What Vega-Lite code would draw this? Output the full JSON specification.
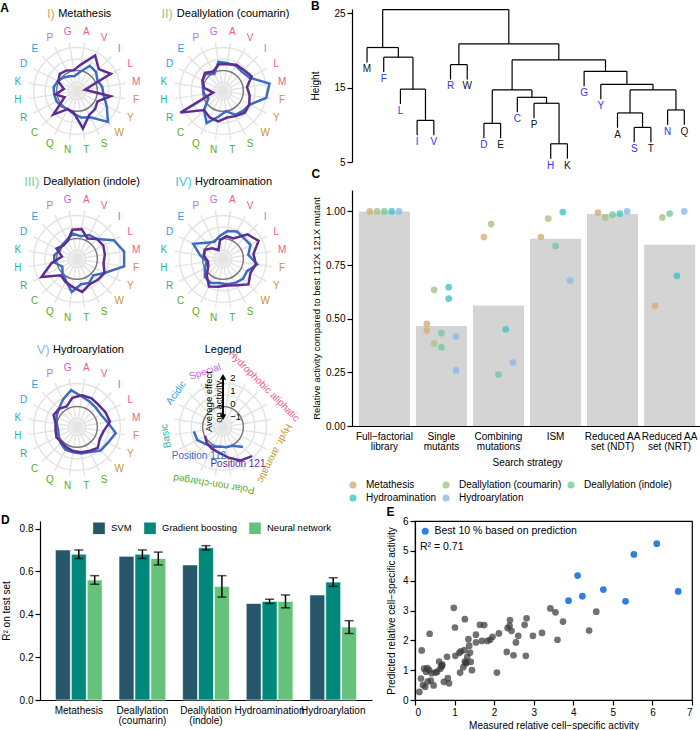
{
"$schema":"https://vega.github.io/schema/vega-lite/v6.json",
"padding":0,
"config":{"font":"Liberation Sans","view":{"stroke":null},
"axis":{"labelFontSize":10,"titleFontSize":10,"titleFontWeight":"normal","domainColor":"#000","tickColor":"#000","labelColor":"#000","titleColor":"#000","grid":false,"domainWidth":1.2,"tickWidth":1.2},
"legend":{"labelFontSize":10,"titleFontWeight":"normal","labelColor":"#000"}},
"datasets":{
"aa":[{"aa":"A","i":0,"g":"Hydrophobic aliphatic"},{"aa":"V","i":1,"g":"Hydrophobic aliphatic"},{"aa":"I","i":2,"g":"Hydrophobic aliphatic"},{"aa":"L","i":3,"g":"Hydrophobic aliphatic"},{"aa":"M","i":4,"g":"Hydrophobic aliphatic"},{"aa":"F","i":5,"g":"Hydr. aromatic"},{"aa":"Y","i":6,"g":"Hydr. aromatic"},{"aa":"W","i":7,"g":"Hydr. aromatic"},{"aa":"S","i":8,"g":"Polar non-charged"},{"aa":"T","i":9,"g":"Polar non-charged"},{"aa":"N","i":10,"g":"Polar non-charged"},{"aa":"Q","i":11,"g":"Polar non-charged"},{"aa":"C","i":12,"g":"Polar non-charged"},{"aa":"R","i":13,"g":"Basic"},{"aa":"H","i":14,"g":"Basic"},{"aa":"K","i":15,"g":"Basic"},{"aa":"D","i":16,"g":"Acidic"},{"aa":"E","i":17,"g":"Acidic"},{"aa":"P","i":18,"g":"Special"},{"aa":"G","i":19,"g":"Special"}],
"rings":[{"r":0.77,"k":"grid"},{"r":2.77,"k":"grid"},{"r":3.77,"k":"grid"},{"r":1.77,"k":"zero"}],
"groups":[{"g":"Special","m":18.5},{"g":"Hydrophobic aliphatic","m":2},{"g":"Hydr. aromatic","m":6},{"g":"Polar non-charged","m":10},{"g":"Basic","m":14},{"g":"Acidic","m":16.5}],
"ticks":[{"v":2},{"v":1},{"v":0},{"v":-1}],
"radar":[
{"rx":"I","p":"112","aa":"A","v":-0.3},{"rx":"I","p":"112","aa":"V","v":0.4},{"rx":"I","p":"112","aa":"I","v":0.3},{"rx":"I","p":"112","aa":"L","v":0.0},{"rx":"I","p":"112","aa":"M","v":0.2},{"rx":"I","p":"112","aa":"F","v":0.3},{"rx":"I","p":"112","aa":"Y","v":0.8},{"rx":"I","p":"112","aa":"W","v":1.6},{"rx":"I","p":"112","aa":"S","v":0.5},{"rx":"I","p":"112","aa":"T","v":0.3},{"rx":"I","p":"112","aa":"N","v":0.0},{"rx":"I","p":"112","aa":"Q","v":-0.2},{"rx":"I","p":"112","aa":"C","v":-0.1},{"rx":"I","p":"112","aa":"R","v":0.0},{"rx":"I","p":"112","aa":"H","v":0.0},{"rx":"I","p":"112","aa":"K","v":0.05},{"rx":"I","p":"112","aa":"D","v":-0.1},{"rx":"I","p":"112","aa":"E","v":-0.3},{"rx":"I","p":"112","aa":"P","v":-0.5},{"rx":"I","p":"112","aa":"G","v":-0.6},
{"rx":"I","p":"121","aa":"A","v":0.3},{"rx":"I","p":"121","aa":"V","v":1.3},{"rx":"I","p":"121","aa":"I","v":0.6},{"rx":"I","p":"121","aa":"L","v":1.15},{"rx":"I","p":"121","aa":"M","v":-1.15},{"rx":"I","p":"121","aa":"F","v":0.85},{"rx":"I","p":"121","aa":"Y","v":0.0},{"rx":"I","p":"121","aa":"W","v":0.2},{"rx":"I","p":"121","aa":"S","v":0.3},{"rx":"I","p":"121","aa":"T","v":1.15},{"rx":"I","p":"121","aa":"N","v":-0.1},{"rx":"I","p":"121","aa":"Q","v":-0.2},{"rx":"I","p":"121","aa":"C","v":0.8},{"rx":"I","p":"121","aa":"R","v":-0.7},{"rx":"I","p":"121","aa":"H","v":-0.1},{"rx":"I","p":"121","aa":"K","v":-0.75},{"rx":"I","p":"121","aa":"D","v":-0.15},{"rx":"I","p":"121","aa":"E","v":0.1},{"rx":"I","p":"121","aa":"P","v":0.0},{"rx":"I","p":"121","aa":"G","v":-0.15},
{"rx":"II","p":"112","aa":"A","v":0.4},{"rx":"II","p":"112","aa":"V","v":0.4},{"rx":"II","p":"112","aa":"I","v":0.3},{"rx":"II","p":"112","aa":"L","v":0.5},{"rx":"II","p":"112","aa":"M","v":1.85},{"rx":"II","p":"112","aa":"F","v":1.6},{"rx":"II","p":"112","aa":"Y","v":0.55},{"rx":"II","p":"112","aa":"W","v":0.4},{"rx":"II","p":"112","aa":"S","v":0.3},{"rx":"II","p":"112","aa":"T","v":-0.2},{"rx":"II","p":"112","aa":"N","v":0.2},{"rx":"II","p":"112","aa":"Q","v":1.0},{"rx":"II","p":"112","aa":"C","v":0.3},{"rx":"II","p":"112","aa":"R","v":-0.5},{"rx":"II","p":"112","aa":"H","v":-0.3},{"rx":"II","p":"112","aa":"K","v":-0.2},{"rx":"II","p":"112","aa":"D","v":0.0},{"rx":"II","p":"112","aa":"E","v":0.1},{"rx":"II","p":"112","aa":"P","v":-0.3},{"rx":"II","p":"112","aa":"G","v":0.5},
{"rx":"II","p":"121","aa":"A","v":0.3},{"rx":"II","p":"121","aa":"V","v":0.5},{"rx":"II","p":"121","aa":"I","v":0.5},{"rx":"II","p":"121","aa":"L","v":0.7},{"rx":"II","p":"121","aa":"M","v":0.1},{"rx":"II","p":"121","aa":"F","v":0.3},{"rx":"II","p":"121","aa":"Y","v":0.5},{"rx":"II","p":"121","aa":"W","v":0.6},{"rx":"II","p":"121","aa":"S","v":0.4},{"rx":"II","p":"121","aa":"T","v":0.3},{"rx":"II","p":"121","aa":"N","v":0.6},{"rx":"II","p":"121","aa":"Q","v":0.5},{"rx":"II","p":"121","aa":"C","v":0.3},{"rx":"II","p":"121","aa":"R","v":1.9},{"rx":"II","p":"121","aa":"H","v":-1.0},{"rx":"II","p":"121","aa":"K","v":-0.3},{"rx":"II","p":"121","aa":"D","v":0.0},{"rx":"II","p":"121","aa":"E","v":0.2},{"rx":"II","p":"121","aa":"P","v":-0.1},{"rx":"II","p":"121","aa":"G","v":0.3},
{"rx":"III","p":"112","aa":"A","v":0.0},{"rx":"III","p":"112","aa":"V","v":0.3},{"rx":"III","p":"112","aa":"I","v":0.4},{"rx":"III","p":"112","aa":"L","v":1.4},{"rx":"III","p":"112","aa":"M","v":1.9},{"rx":"III","p":"112","aa":"F","v":1.9},{"rx":"III","p":"112","aa":"Y","v":0.6},{"rx":"III","p":"112","aa":"W","v":0.0},{"rx":"III","p":"112","aa":"S","v":0.3},{"rx":"III","p":"112","aa":"T","v":0.2},{"rx":"III","p":"112","aa":"N","v":0.8},{"rx":"III","p":"112","aa":"Q","v":0.1},{"rx":"III","p":"112","aa":"C","v":-0.2},{"rx":"III","p":"112","aa":"R","v":-0.5},{"rx":"III","p":"112","aa":"H","v":0.0},{"rx":"III","p":"112","aa":"K","v":0.0},{"rx":"III","p":"112","aa":"D","v":-0.3},{"rx":"III","p":"112","aa":"E","v":-0.2},{"rx":"III","p":"112","aa":"P","v":-0.1},{"rx":"III","p":"112","aa":"G","v":0.2},
{"rx":"III","p":"121","aa":"A","v":0.55},{"rx":"III","p":"121","aa":"V","v":0.0},{"rx":"III","p":"121","aa":"I","v":0.4},{"rx":"III","p":"121","aa":"L","v":0.5},{"rx":"III","p":"121","aa":"M","v":0.4},{"rx":"III","p":"121","aa":"F","v":0.3},{"rx":"III","p":"121","aa":"Y","v":0.6},{"rx":"III","p":"121","aa":"W","v":0.5},{"rx":"III","p":"121","aa":"S","v":0.4},{"rx":"III","p":"121","aa":"T","v":0.8},{"rx":"III","p":"121","aa":"N","v":0.4},{"rx":"III","p":"121","aa":"Q","v":0.2},{"rx":"III","p":"121","aa":"C","v":0.0},{"rx":"III","p":"121","aa":"R","v":1.3},{"rx":"III","p":"121","aa":"H","v":0.2},{"rx":"III","p":"121","aa":"K","v":-0.6},{"rx":"III","p":"121","aa":"D","v":0.0},{"rx":"III","p":"121","aa":"E","v":-0.3},{"rx":"III","p":"121","aa":"P","v":-0.2},{"rx":"III","p":"121","aa":"G","v":0.5},
{"rx":"IV","p":"112","aa":"A","v":0.4},{"rx":"IV","p":"112","aa":"V","v":0.6},{"rx":"IV","p":"112","aa":"I","v":0.5},{"rx":"IV","p":"112","aa":"L","v":0.6},{"rx":"IV","p":"112","aa":"M","v":0.2},{"rx":"IV","p":"112","aa":"F","v":0.9},{"rx":"IV","p":"112","aa":"Y","v":0.3},{"rx":"IV","p":"112","aa":"W","v":0.4},{"rx":"IV","p":"112","aa":"S","v":0.3},{"rx":"IV","p":"112","aa":"T","v":0.2},{"rx":"IV","p":"112","aa":"N","v":0.1},{"rx":"IV","p":"112","aa":"Q","v":0.3},{"rx":"IV","p":"112","aa":"C","v":0.2},{"rx":"IV","p":"112","aa":"R","v":-0.2},{"rx":"IV","p":"112","aa":"H","v":-0.5},{"rx":"IV","p":"112","aa":"K","v":0.0},{"rx":"IV","p":"112","aa":"D","v":0.8},{"rx":"IV","p":"112","aa":"E","v":0.0},{"rx":"IV","p":"112","aa":"P","v":-0.3},{"rx":"IV","p":"112","aa":"G","v":0.0},
{"rx":"IV","p":"121","aa":"A","v":0.0},{"rx":"IV","p":"121","aa":"V","v":0.0},{"rx":"IV","p":"121","aa":"I","v":0.9},{"rx":"IV","p":"121","aa":"L","v":1.3},{"rx":"IV","p":"121","aa":"M","v":0.6},{"rx":"IV","p":"121","aa":"F","v":0.8},{"rx":"IV","p":"121","aa":"Y","v":0.6},{"rx":"IV","p":"121","aa":"W","v":1.0},{"rx":"IV","p":"121","aa":"S","v":0.5},{"rx":"IV","p":"121","aa":"T","v":0.3},{"rx":"IV","p":"121","aa":"N","v":0.4},{"rx":"IV","p":"121","aa":"Q","v":0.6},{"rx":"IV","p":"121","aa":"C","v":0.0},{"rx":"IV","p":"121","aa":"R","v":-0.5},{"rx":"IV","p":"121","aa":"H","v":-0.6},{"rx":"IV","p":"121","aa":"K","v":-0.3},{"rx":"IV","p":"121","aa":"D","v":-0.2},{"rx":"IV","p":"121","aa":"E","v":-0.6},{"rx":"IV","p":"121","aa":"P","v":-1.0},{"rx":"IV","p":"121","aa":"G","v":-0.3},
{"rx":"V","p":"112","aa":"A","v":0.6},{"rx":"V","p":"112","aa":"V","v":0.4},{"rx":"V","p":"112","aa":"I","v":0.3},{"rx":"V","p":"112","aa":"L","v":0.3},{"rx":"V","p":"112","aa":"M","v":0.6},{"rx":"V","p":"112","aa":"F","v":1.25},{"rx":"V","p":"112","aa":"Y","v":0.9},{"rx":"V","p":"112","aa":"W","v":0.8},{"rx":"V","p":"112","aa":"S","v":0.4},{"rx":"V","p":"112","aa":"T","v":0.3},{"rx":"V","p":"112","aa":"N","v":0.2},{"rx":"V","p":"112","aa":"Q","v":0.2},{"rx":"V","p":"112","aa":"C","v":0.0},{"rx":"V","p":"112","aa":"R","v":-0.2},{"rx":"V","p":"112","aa":"H","v":-0.3},{"rx":"V","p":"112","aa":"K","v":-0.2},{"rx":"V","p":"112","aa":"D","v":0.0},{"rx":"V","p":"112","aa":"E","v":0.2},{"rx":"V","p":"112","aa":"P","v":0.6},{"rx":"V","p":"112","aa":"G","v":1.1},
{"rx":"V","p":"121","aa":"A","v":0.7},{"rx":"V","p":"121","aa":"V","v":0.7},{"rx":"V","p":"121","aa":"I","v":0.6},{"rx":"V","p":"121","aa":"L","v":0.7},{"rx":"V","p":"121","aa":"M","v":0.8},{"rx":"V","p":"121","aa":"F","v":0.3},{"rx":"V","p":"121","aa":"Y","v":0.2},{"rx":"V","p":"121","aa":"W","v":0.5},{"rx":"V","p":"121","aa":"S","v":0.3},{"rx":"V","p":"121","aa":"T","v":0.2},{"rx":"V","p":"121","aa":"N","v":0.1},{"rx":"V","p":"121","aa":"Q","v":0.0},{"rx":"V","p":"121","aa":"C","v":-0.1},{"rx":"V","p":"121","aa":"R","v":0.0},{"rx":"V","p":"121","aa":"H","v":-0.1},{"rx":"V","p":"121","aa":"K","v":-0.1},{"rx":"V","p":"121","aa":"D","v":0.25},{"rx":"V","p":"121","aa":"E","v":0.2},{"rx":"V","p":"121","aa":"P","v":0.0},{"rx":"V","p":"121","aa":"G","v":0.5},
{"rx":"L","p":"112","aa":"W","v":0.4},{"rx":"L","p":"112","aa":"S","v":-0.15},{"rx":"L","p":"112","aa":"T","v":-0.2},{"rx":"L","p":"112","aa":"N","v":-0.25},{"rx":"L","p":"112","aa":"Q","v":-0.05},{"rx":"L","p":"112","aa":"C","v":0.1},{"rx":"L","p":"112","aa":"R","v":0.45},{"rx":"L","p":"112","aa":"H","v":0.5},
{"rx":"L","p":"121","aa":"W","v":1.4},{"rx":"L","p":"121","aa":"S","v":1.13},{"rx":"L","p":"121","aa":"T","v":0.6},{"rx":"L","p":"121","aa":"N","v":0.23},{"rx":"L","p":"121","aa":"Q","v":0.1},{"rx":"L","p":"121","aa":"C","v":0.0},{"rx":"L","p":"121","aa":"R","v":-0.23}
],
"dend":[{"xl":4,"xr":5,"h":10.6,"hl":8.6,"hr":8.6},{"xl":3,"xr":4.5,"h":14.8,"hl":12.8,"hr":10.6},{"xl":2,"xr":3.75,"h":19.1,"hl":17.1,"hr":14.8},{"xl":1,"xr":2.875,"h":20.4,"hl":18.4,"hr":19.1},{"xl":6,"xr":7,"h":18.1,"hl":16.1,"hr":16.1},{"xl":8,"xr":9,"h":10.2,"hl":8.2,"hr":8.2},{"xl":12,"xr":13,"h":7.45,"hl":5.45,"hr":5.45},{"xl":11,"xr":12.5,"h":12.9,"hl":10.9,"hr":7.45},{"xl":10,"xr":11.75,"h":13.7,"hl":11.7,"hr":12.9},{"xl":8.5,"xr":10.875,"h":14.7,"hl":10.2,"hr":13.7},{"xl":17,"xr":18,"h":9.65,"hl":7.65,"hr":7.65},{"xl":16,"xr":17.5,"h":11.6,"hl":9.6,"hr":9.65},{"xl":19,"xr":20,"h":12.0,"hl":10.0,"hr":10.0},{"xl":16.75,"xr":19.5,"h":14.7,"hl":11.6,"hr":12.0},{"xl":15,"xr":18.125,"h":15.45,"hl":13.45,"hr":14.7},{"xl":14,"xr":16.5625,"h":17.2,"hl":15.2,"hr":15.45},{"xl":9.6875,"xr":15.28125,"h":18.75,"hl":14.7,"hr":17.2},{"xl":6.5,"xr":12.484375,"h":20.9,"hl":18.1,"hr":18.75},{"xl":1.9375,"xr":9.4921875,"h":25.5,"hl":20.4,"hr":20.9}],
"leaves":[{"aa":"M","x":1,"h":18.4,"sel":"no"},{"aa":"F","x":2,"h":17.1,"sel":"yes"},{"aa":"L","x":3,"h":12.8,"sel":"yes"},{"aa":"I","x":4,"h":8.6,"sel":"yes"},{"aa":"V","x":5,"h":8.6,"sel":"yes"},{"aa":"R","x":6,"h":16.1,"sel":"yes"},{"aa":"W","x":7,"h":16.1,"sel":"no"},{"aa":"D","x":8,"h":8.2,"sel":"yes"},{"aa":"E","x":9,"h":8.2,"sel":"no"},{"aa":"C","x":10,"h":11.7,"sel":"yes"},{"aa":"P","x":11,"h":10.9,"sel":"no"},{"aa":"H","x":12,"h":5.45,"sel":"yes"},{"aa":"K","x":13,"h":5.45,"sel":"no"},{"aa":"G","x":14,"h":15.2,"sel":"yes"},{"aa":"Y","x":15,"h":13.45,"sel":"yes"},{"aa":"A","x":16,"h":9.6,"sel":"no"},{"aa":"S","x":17,"h":7.65,"sel":"yes"},{"aa":"T","x":18,"h":7.65,"sel":"no"},{"aa":"N","x":19,"h":10.0,"sel":"yes"},{"aa":"Q","x":20,"h":10.0,"sel":"no"}],
"strat":[
{"s":"Full−factorial|library","rx":"Metathesis","val":1.0},{"s":"Full−factorial|library","rx":"Deallylation (coumarin)","val":1.0},{"s":"Full−factorial|library","rx":"Deallylation (indole)","val":1.0},{"s":"Full−factorial|library","rx":"Hydroamination","val":1.0},{"s":"Full−factorial|library","rx":"Hydroarylation","val":1.0},
{"s":"Single|mutants","rx":"Hydroamination","val":0.647},{"s":"Single|mutants","rx":"Hydroamination","val":0.594},{"s":"Single|mutants","rx":"Deallylation (coumarin)","val":0.634},{"s":"Single|mutants","rx":"Metathesis","val":0.476},{"s":"Single|mutants","rx":"Metathesis","val":0.445},{"s":"Single|mutants","rx":"Deallylation (indole)","val":0.433},{"s":"Single|mutants","rx":"Hydroarylation","val":0.417},{"s":"Single|mutants","rx":"Deallylation (coumarin)","val":0.384},{"s":"Single|mutants","rx":"Deallylation (indole)","val":0.367},{"s":"Single|mutants","rx":"Hydroarylation","val":0.259},
{"s":"Combining|mutations","rx":"Deallylation (coumarin)","val":0.941},{"s":"Combining|mutations","rx":"Metathesis","val":0.881},{"s":"Combining|mutations","rx":"Hydroamination","val":0.451},{"s":"Combining|mutations","rx":"Hydroarylation","val":0.296},{"s":"Combining|mutations","rx":"Deallylation (indole)","val":0.24},
{"s":"ISM","rx":"Hydroamination","val":0.997},{"s":"ISM","rx":"Deallylation (coumarin)","val":0.967},{"s":"ISM","rx":"Metathesis","val":0.881},{"s":"ISM","rx":"Deallylation (indole)","val":0.839},{"s":"ISM","rx":"Hydroarylation","val":0.678},
{"s":"Reduced AA|set (NDT)","rx":"Hydroarylation","val":1.0},{"s":"Reduced AA|set (NDT)","rx":"Metathesis","val":0.995},{"s":"Reduced AA|set (NDT)","rx":"Deallylation (coumarin)","val":0.972},{"s":"Reduced AA|set (NDT)","rx":"Deallylation (indole)","val":0.985},{"s":"Reduced AA|set (NDT)","rx":"Hydroamination","val":0.99},
{"s":"Reduced AA|set (NRT)","rx":"Deallylation (coumarin)","val":0.972},{"s":"Reduced AA|set (NRT)","rx":"Deallylation (indole)","val":0.99},{"s":"Reduced AA|set (NRT)","rx":"Hydroarylation","val":1.0},{"s":"Reduced AA|set (NRT)","rx":"Hydroamination","val":0.7},{"s":"Reduced AA|set (NRT)","rx":"Metathesis","val":0.56}
],
"models":[
{"rx":"Metathesis","m":"SVM","r2":0.70,"err":0},{"rx":"Metathesis","m":"Gradient boosting","r2":0.68,"err":0.02},{"rx":"Metathesis","m":"Neural network","r2":0.56,"err":0.02},
{"rx":"Deallylation|(coumarin)","m":"SVM","r2":0.67,"err":0},{"rx":"Deallylation|(coumarin)","m":"Gradient boosting","r2":0.68,"err":0.02},{"rx":"Deallylation|(coumarin)","m":"Neural network","r2":0.66,"err":0.03},
{"rx":"Deallylation|(indole)","m":"SVM","r2":0.63,"err":0},{"rx":"Deallylation|(indole)","m":"Gradient boosting","r2":0.71,"err":0.01},{"rx":"Deallylation|(indole)","m":"Neural network","r2":0.53,"err":0.05},
{"rx":"Hydroamination","m":"SVM","r2":0.45,"err":0},{"rx":"Hydroamination","m":"Gradient boosting","r2":0.46,"err":0.01},{"rx":"Hydroamination","m":"Neural network","r2":0.46,"err":0.03},
{"rx":"Hydroarylation","m":"SVM","r2":0.49,"err":0},{"rx":"Hydroarylation","m":"Gradient boosting","r2":0.55,"err":0.02},{"rx":"Hydroarylation","m":"Neural network","r2":0.34,"err":0.03}
],
"scatter":[
{"mx":0.98,"py":3.09,"grp":"rest"},{"mx":1.01,"py":2.43,"grp":"rest"},{"mx":1.26,"py":2.71,"grp":"rest"},{"mx":0.37,"py":2.22,"grp":"rest"},{"mx":0.17,"py":1.66,"grp":"rest"},{"mx":0.11,"py":0.27,"grp":"rest"},{"mx":0.15,"py":0.72,"grp":"rest"},{"mx":0.26,"py":0.44,"grp":"rest"},{"mx":0.23,"py":1.05,"grp":"rest"},{"mx":0.31,"py":1.07,"grp":"rest"},{"mx":0.36,"py":1.0,"grp":"rest"},{"mx":0.42,"py":0.9,"grp":"rest"},{"mx":0.4,"py":0.65,"grp":"rest"},{"mx":0.47,"py":0.49,"grp":"rest"},{"mx":0.61,"py":1.29,"grp":"rest"},{"mx":0.67,"py":1.12,"grp":"rest"},{"mx":0.69,"py":1.19,"grp":"rest"},{"mx":0.56,"py":0.95,"grp":"rest"},{"mx":0.73,"py":0.61,"grp":"rest"},{"mx":0.81,"py":1.45,"grp":"rest"},{"mx":0.83,"py":0.73,"grp":"rest"},{"mx":0.86,"py":0.56,"grp":"rest"},{"mx":1.02,"py":1.48,"grp":"rest"},{"mx":1.14,"py":0.92,"grp":"rest"},{"mx":1.16,"py":1.63,"grp":"rest"},{"mx":1.25,"py":1.67,"grp":"rest"},{"mx":1.26,"py":1.29,"grp":"rest"},{"mx":1.28,"py":1.23,"grp":"rest"},{"mx":1.32,"py":1.44,"grp":"rest"},{"mx":1.35,"py":2.04,"grp":"rest"},{"mx":1.37,"py":1.82,"grp":"rest"},{"mx":1.39,"py":1.59,"grp":"rest"},{"mx":1.44,"py":1.0,"grp":"rest"},{"mx":1.41,"py":1.28,"grp":"rest"},{"mx":1.54,"py":2.19,"grp":"rest"},{"mx":1.54,"py":1.93,"grp":"rest"},{"mx":1.64,"py":2.52,"grp":"rest"},{"mx":1.69,"py":1.98,"grp":"rest"},{"mx":1.75,"py":2.51,"grp":"rest"},{"mx":1.83,"py":1.98,"grp":"rest"},{"mx":1.9,"py":2.02,"grp":"rest"},{"mx":1.96,"py":2.12,"grp":"rest"},{"mx":2.07,"py":0.92,"grp":"rest"},{"mx":2.12,"py":2.23,"grp":"rest"},{"mx":2.32,"py":1.61,"grp":"rest"},{"mx":2.34,"py":2.41,"grp":"rest"},{"mx":2.39,"py":2.49,"grp":"rest"},{"mx":2.4,"py":2.68,"grp":"rest"},{"mx":2.44,"py":2.32,"grp":"rest"},{"mx":2.49,"py":1.5,"grp":"rest"},{"mx":2.55,"py":1.93,"grp":"rest"},{"mx":2.61,"py":2.15,"grp":"rest"},{"mx":2.77,"py":2.52,"grp":"rest"},{"mx":2.82,"py":2.74,"grp":"rest"},{"mx":2.8,"py":1.48,"grp":"rest"},{"mx":2.98,"py":2.15,"grp":"rest"},{"mx":3.21,"py":2.25,"grp":"rest"},{"mx":3.42,"py":3.07,"grp":"rest"},{"mx":3.55,"py":2.94,"grp":"rest"},{"mx":3.6,"py":2.02,"grp":"rest"},{"mx":3.74,"py":2.63,"grp":"rest"},{"mx":4.4,"py":2.33,"grp":"rest"},{"mx":4.58,"py":2.96,"grp":"rest"},{"mx":0.28,"py":0.95,"grp":"rest"},{"mx":0.52,"py":0.92,"grp":"rest"},{"mx":1.22,"py":1.1,"grp":"rest"},{"mx":0.64,"py":1.05,"grp":"rest"},{"mx":0.2,"py":0.5,"grp":"rest"},{"mx":1.12,"py":1.58,"grp":"rest"},{"mx":0.68,"py":1.15,"grp":"rest"},{"mx":1.3,"py":1.25,"grp":"rest"},{"mx":0.32,"py":0.62,"grp":"rest"},
{"mx":3.88,"py":3.33,"grp":"Best 10 % based on prediction"},{"mx":4.11,"py":4.17,"grp":"Best 10 % based on prediction"},{"mx":4.23,"py":3.48,"grp":"Best 10 % based on prediction"},{"mx":4.76,"py":3.7,"grp":"Best 10 % based on prediction"},{"mx":5.32,"py":3.31,"grp":"Best 10 % based on prediction"},{"mx":5.53,"py":4.88,"grp":"Best 10 % based on prediction"},{"mx":6.11,"py":5.24,"grp":"Best 10 % based on prediction"},{"mx":6.65,"py":3.64,"grp":"Best 10 % based on prediction"}
]
},
"resolve":{"scale":{"x":"independent","y":"independent","color":"independent","size":"independent","stroke":"independent","opacity":"independent"},"legend":{"color":"independent","size":"independent","stroke":"independent","opacity":"independent"}},
"spacing":2,
"vconcat":[
{"hconcat":[
 {"concat":[
   {"width":102,"height":147,
    "encoding":{"x":{"field":"x","type":"quantitative","scale":{"domain":[-2.846,5],"nice":false,"zero":false},"axis":null},"y":{"field":"y","type":"quantitative","scale":{"domain":[-5,6.3],"nice":false,"zero":false},"axis":null}},
    "layer":[
     {"data":{"name":"aa"},"transform":[{"calculate":"(datum.i+0.5)*PI/10","as":"a"},{"calculate":"0","as":"x"},{"calculate":"0","as":"y"},{"calculate":"3.77*sin(datum.a)","as":"x2"},{"calculate":"3.77*cos(datum.a)","as":"y2"}],"mark":{"type":"rule","color":"#e4e4e4","strokeWidth":1.5},"encoding":{"x2":{"field":"x2"},"y2":{"field":"y2"}}},
     {"data":{"name":"rings"},"transform":[{"calculate":"0","as":"x"},{"calculate":"0","as":"y"}],"mark":{"type":"point","shape":"circle","filled":false,"strokeWidth":1.5,"opacity":1},"encoding":{"size":{"field":"r","type":"quantitative","scale":{"type":"pow","exponent":2,"domain":[0,5],"range":[0,13273]},"legend":null},"stroke":{"field":"k","type":"nominal","scale":{"domain":["grid","zero"],"range":["#e4e4e4","#7a7a7a"]},"legend":null}}},
     {"data":{"name":"radar"},"transform":[{"filter":"datum.rx=='I' && datum.p=='112'"},{"lookup":"aa","from":{"data":{"name":"aa"},"key":"aa","fields":["i"]}},{"calculate":"(datum.i+0.5)*PI/10","as":"a"},{"calculate":"(datum.v+1.77)*sin(datum.a)","as":"x"},{"calculate":"(datum.v+1.77)*cos(datum.a)","as":"y"}],"mark":{"type":"line","interpolate":"linear-closed","color":"#3b6cc0","strokeWidth":2.5},"encoding":{"order":{"field":"i","type":"quantitative"}}},
     {"data":{"name":"radar"},"transform":[{"filter":"datum.rx=='I' && datum.p=='121'"},{"lookup":"aa","from":{"data":{"name":"aa"},"key":"aa","fields":["i"]}},{"calculate":"(datum.i+0.5)*PI/10","as":"a"},{"calculate":"(datum.v+1.77)*sin(datum.a)","as":"x"},{"calculate":"(datum.v+1.77)*cos(datum.a)","as":"y"}],"mark":{"type":"line","interpolate":"linear-closed","color":"#5e2d91","strokeWidth":2.5},"encoding":{"order":{"field":"i","type":"quantitative"}}},
     {"data":{"name":"aa"},"transform":[{"calculate":"(datum.i+0.5)*PI/10","as":"a"},{"calculate":"4.6*sin(datum.a)","as":"x"},{"calculate":"4.6*cos(datum.a)","as":"y"}],"mark":{"type":"text","fontSize":10},"encoding":{"text":{"field":"aa"},"color":{"field":"g","type":"nominal","scale":{"domain":["Special","Hydrophobic aliphatic","Hydr. aromatic","Polar non-charged","Basic","Acidic"],"range":["#cc66dd","#e8608a","#c8962a","#5aaa2a","#1fb5a0","#2e9be0"]},"legend":null}}},
     {"data":{"values":[{}]},"transform":[{"calculate":"-1.7","as":"x"},{"calculate":"5.95","as":"y"}],"mark":{"type":"text","align":"right","fontSize":13,"color":"#c9aa78"},"encoding":{"text":{"value":"I)"}}},
     {"data":{"values":[{}]},"transform":[{"calculate":"-1.45","as":"x"},{"calculate":"5.95","as":"y"}],"mark":{"type":"text","align":"left","fontSize":11,"color":"#000"},"encoding":{"text":{"value":"Metathesis"}}},
     {"data":{"values":[{}]},"transform":[{"calculate":"-5.9","as":"x"},{"calculate":"6.75","as":"y"}],"mark":{"type":"text","align":"left","baseline":"top","fontSize":12,"fontWeight":"bold","color":"#000"},"encoding":{"text":{"value":"A"}}}
    ]},
   {"width":130,"height":147,
    "encoding":{"x":{"field":"x","type":"quantitative","scale":{"domain":[-5,5],"nice":false,"zero":false},"axis":null},"y":{"field":"y","type":"quantitative","scale":{"domain":[-5,6.3],"nice":false,"zero":false},"axis":null}},
    "layer":[
     {"data":{"name":"aa"},"transform":[{"calculate":"(datum.i+0.5)*PI/10","as":"a"},{"calculate":"0","as":"x"},{"calculate":"0","as":"y"},{"calculate":"3.77*sin(datum.a)","as":"x2"},{"calculate":"3.77*cos(datum.a)","as":"y2"}],"mark":{"type":"rule","color":"#e4e4e4","strokeWidth":1.5},"encoding":{"x2":{"field":"x2"},"y2":{"field":"y2"}}},
     {"data":{"name":"rings"},"transform":[{"calculate":"0","as":"x"},{"calculate":"0","as":"y"}],"mark":{"type":"point","shape":"circle","filled":false,"strokeWidth":1.5,"opacity":1},"encoding":{"size":{"field":"r","type":"quantitative","scale":{"type":"pow","exponent":2,"domain":[0,5],"range":[0,13273]},"legend":null},"stroke":{"field":"k","type":"nominal","scale":{"domain":["grid","zero"],"range":["#e4e4e4","#7a7a7a"]},"legend":null}}},
     {"data":{"name":"radar"},"transform":[{"filter":"datum.rx=='II' && datum.p=='112'"},{"lookup":"aa","from":{"data":{"name":"aa"},"key":"aa","fields":["i"]}},{"calculate":"(datum.i+0.5)*PI/10","as":"a"},{"calculate":"(datum.v+1.77)*sin(datum.a)","as":"x"},{"calculate":"(datum.v+1.77)*cos(datum.a)","as":"y"}],"mark":{"type":"line","interpolate":"linear-closed","color":"#3b6cc0","strokeWidth":2.5},"encoding":{"order":{"field":"i","type":"quantitative"}}},
     {"data":{"name":"radar"},"transform":[{"filter":"datum.rx=='II' && datum.p=='121'"},{"lookup":"aa","from":{"data":{"name":"aa"},"key":"aa","fields":["i"]}},{"calculate":"(datum.i+0.5)*PI/10","as":"a"},{"calculate":"(datum.v+1.77)*sin(datum.a)","as":"x"},{"calculate":"(datum.v+1.77)*cos(datum.a)","as":"y"}],"mark":{"type":"line","interpolate":"linear-closed","color":"#5e2d91","strokeWidth":2.5},"encoding":{"order":{"field":"i","type":"quantitative"}}},
     {"data":{"name":"aa"},"transform":[{"calculate":"(datum.i+0.5)*PI/10","as":"a"},{"calculate":"4.6*sin(datum.a)","as":"x"},{"calculate":"4.6*cos(datum.a)","as":"y"}],"mark":{"type":"text","fontSize":10},"encoding":{"text":{"field":"aa"},"color":{"field":"g","type":"nominal","scale":{"domain":["Special","Hydrophobic aliphatic","Hydr. aromatic","Polar non-charged","Basic","Acidic"],"range":["#cc66dd","#e8608a","#c8962a","#5aaa2a","#1fb5a0","#2e9be0"]},"legend":null}}},
     {"data":{"values":[{}]},"transform":[{"calculate":"-3.85","as":"x"},{"calculate":"5.95","as":"y"}],"mark":{"type":"text","align":"right","fontSize":13,"color":"#a8c07e"},"encoding":{"text":{"value":"II)"}}},
     {"data":{"values":[{}]},"transform":[{"calculate":"-3.55","as":"x"},{"calculate":"5.95","as":"y"}],"mark":{"type":"text","align":"left","fontSize":11,"color":"#000"},"encoding":{"text":{"value":"Deallylation (coumarin)"}}}
    ]},
   {"width":102,"height":147,
    "encoding":{"x":{"field":"x","type":"quantitative","scale":{"domain":[-2.846,5],"nice":false,"zero":false},"axis":null},"y":{"field":"y","type":"quantitative","scale":{"domain":[-5,6.3],"nice":false,"zero":false},"axis":null}},
    "layer":[
     {"data":{"name":"aa"},"transform":[{"calculate":"(datum.i+0.5)*PI/10","as":"a"},{"calculate":"0","as":"x"},{"calculate":"0","as":"y"},{"calculate":"3.77*sin(datum.a)","as":"x2"},{"calculate":"3.77*cos(datum.a)","as":"y2"}],"mark":{"type":"rule","color":"#e4e4e4","strokeWidth":1.5},"encoding":{"x2":{"field":"x2"},"y2":{"field":"y2"}}},
     {"data":{"name":"rings"},"transform":[{"calculate":"0","as":"x"},{"calculate":"0","as":"y"}],"mark":{"type":"point","shape":"circle","filled":false,"strokeWidth":1.5,"opacity":1},"encoding":{"size":{"field":"r","type":"quantitative","scale":{"type":"pow","exponent":2,"domain":[0,5],"range":[0,13273]},"legend":null},"stroke":{"field":"k","type":"nominal","scale":{"domain":["grid","zero"],"range":["#e4e4e4","#7a7a7a"]},"legend":null}}},
     {"data":{"name":"radar"},"transform":[{"filter":"datum.rx=='III' && datum.p=='112'"},{"lookup":"aa","from":{"data":{"name":"aa"},"key":"aa","fields":["i"]}},{"calculate":"(datum.i+0.5)*PI/10","as":"a"},{"calculate":"(datum.v+1.77)*sin(datum.a)","as":"x"},{"calculate":"(datum.v+1.77)*cos(datum.a)","as":"y"}],"mark":{"type":"line","interpolate":"linear-closed","color":"#3b6cc0","strokeWidth":2.5},"encoding":{"order":{"field":"i","type":"quantitative"}}},
     {"data":{"name":"radar"},"transform":[{"filter":"datum.rx=='III' && datum.p=='121'"},{"lookup":"aa","from":{"data":{"name":"aa"},"key":"aa","fields":["i"]}},{"calculate":"(datum.i+0.5)*PI/10","as":"a"},{"calculate":"(datum.v+1.77)*sin(datum.a)","as":"x"},{"calculate":"(datum.v+1.77)*cos(datum.a)","as":"y"}],"mark":{"type":"line","interpolate":"linear-closed","color":"#5e2d91","strokeWidth":2.5},"encoding":{"order":{"field":"i","type":"quantitative"}}},
     {"data":{"name":"aa"},"transform":[{"calculate":"(datum.i+0.5)*PI/10","as":"a"},{"calculate":"4.6*sin(datum.a)","as":"x"},{"calculate":"4.6*cos(datum.a)","as":"y"}],"mark":{"type":"text","fontSize":10},"encoding":{"text":{"field":"aa"},"color":{"field":"g","type":"nominal","scale":{"domain":["Special","Hydrophobic aliphatic","Hydr. aromatic","Polar non-charged","Basic","Acidic"],"range":["#cc66dd","#e8608a","#c8962a","#5aaa2a","#1fb5a0","#2e9be0"]},"legend":null}}},
     {"data":{"values":[{}]},"transform":[{"calculate":"-2.9","as":"x"},{"calculate":"5.95","as":"y"}],"mark":{"type":"text","align":"right","fontSize":13,"color":"#7dcc9c"},"encoding":{"text":{"value":"III)"}}},
     {"data":{"values":[{}]},"transform":[{"calculate":"-2.6","as":"x"},{"calculate":"5.95","as":"y"}],"mark":{"type":"text","align":"left","fontSize":11,"color":"#000"},"encoding":{"text":{"value":"Deallylation (indole)"}}}
    ]},
   {"width":130,"height":147,
    "encoding":{"x":{"field":"x","type":"quantitative","scale":{"domain":[-5,5],"nice":false,"zero":false},"axis":null},"y":{"field":"y","type":"quantitative","scale":{"domain":[-5,6.3],"nice":false,"zero":false},"axis":null}},
    "layer":[
     {"data":{"name":"aa"},"transform":[{"calculate":"(datum.i+0.5)*PI/10","as":"a"},{"calculate":"0","as":"x"},{"calculate":"0","as":"y"},{"calculate":"3.77*sin(datum.a)","as":"x2"},{"calculate":"3.77*cos(datum.a)","as":"y2"}],"mark":{"type":"rule","color":"#e4e4e4","strokeWidth":1.5},"encoding":{"x2":{"field":"x2"},"y2":{"field":"y2"}}},
     {"data":{"name":"rings"},"transform":[{"calculate":"0","as":"x"},{"calculate":"0","as":"y"}],"mark":{"type":"point","shape":"circle","filled":false,"strokeWidth":1.5,"opacity":1},"encoding":{"size":{"field":"r","type":"quantitative","scale":{"type":"pow","exponent":2,"domain":[0,5],"range":[0,13273]},"legend":null},"stroke":{"field":"k","type":"nominal","scale":{"domain":["grid","zero"],"range":["#e4e4e4","#7a7a7a"]},"legend":null}}},
     {"data":{"name":"radar"},"transform":[{"filter":"datum.rx=='IV' && datum.p=='112'"},{"lookup":"aa","from":{"data":{"name":"aa"},"key":"aa","fields":["i"]}},{"calculate":"(datum.i+0.5)*PI/10","as":"a"},{"calculate":"(datum.v+1.77)*sin(datum.a)","as":"x"},{"calculate":"(datum.v+1.77)*cos(datum.a)","as":"y"}],"mark":{"type":"line","interpolate":"linear-closed","color":"#3b6cc0","strokeWidth":2.5},"encoding":{"order":{"field":"i","type":"quantitative"}}},
     {"data":{"name":"radar"},"transform":[{"filter":"datum.rx=='IV' && datum.p=='121'"},{"lookup":"aa","from":{"data":{"name":"aa"},"key":"aa","fields":["i"]}},{"calculate":"(datum.i+0.5)*PI/10","as":"a"},{"calculate":"(datum.v+1.77)*sin(datum.a)","as":"x"},{"calculate":"(datum.v+1.77)*cos(datum.a)","as":"y"}],"mark":{"type":"line","interpolate":"linear-closed","color":"#5e2d91","strokeWidth":2.5},"encoding":{"order":{"field":"i","type":"quantitative"}}},
     {"data":{"name":"aa"},"transform":[{"calculate":"(datum.i+0.5)*PI/10","as":"a"},{"calculate":"4.6*sin(datum.a)","as":"x"},{"calculate":"4.6*cos(datum.a)","as":"y"}],"mark":{"type":"text","fontSize":10},"encoding":{"text":{"field":"aa"},"color":{"field":"g","type":"nominal","scale":{"domain":["Special","Hydrophobic aliphatic","Hydr. aromatic","Polar non-charged","Basic","Acidic"],"range":["#cc66dd","#e8608a","#c8962a","#5aaa2a","#1fb5a0","#2e9be0"]},"legend":null}}},
     {"data":{"values":[{}]},"transform":[{"calculate":"-2.4","as":"x"},{"calculate":"5.95","as":"y"}],"mark":{"type":"text","align":"right","fontSize":13,"color":"#4ec8d0"},"encoding":{"text":{"value":"IV)"}}},
     {"data":{"values":[{}]},"transform":[{"calculate":"-2.15","as":"x"},{"calculate":"5.95","as":"y"}],"mark":{"type":"text","align":"left","fontSize":11,"color":"#000"},"encoding":{"text":{"value":"Hydroamination"}}}
    ]},
   {"width":102,"height":147,
    "encoding":{"x":{"field":"x","type":"quantitative","scale":{"domain":[-2.846,5],"nice":false,"zero":false},"axis":null},"y":{"field":"y","type":"quantitative","scale":{"domain":[-5,6.3],"nice":false,"zero":false},"axis":null}},
    "layer":[
     {"data":{"name":"aa"},"transform":[{"calculate":"(datum.i+0.5)*PI/10","as":"a"},{"calculate":"0","as":"x"},{"calculate":"0","as":"y"},{"calculate":"3.77*sin(datum.a)","as":"x2"},{"calculate":"3.77*cos(datum.a)","as":"y2"}],"mark":{"type":"rule","color":"#e4e4e4","strokeWidth":1.5},"encoding":{"x2":{"field":"x2"},"y2":{"field":"y2"}}},
     {"data":{"name":"rings"},"transform":[{"calculate":"0","as":"x"},{"calculate":"0","as":"y"}],"mark":{"type":"point","shape":"circle","filled":false,"strokeWidth":1.5,"opacity":1},"encoding":{"size":{"field":"r","type":"quantitative","scale":{"type":"pow","exponent":2,"domain":[0,5],"range":[0,13273]},"legend":null},"stroke":{"field":"k","type":"nominal","scale":{"domain":["grid","zero"],"range":["#e4e4e4","#7a7a7a"]},"legend":null}}},
     {"data":{"name":"radar"},"transform":[{"filter":"datum.rx=='V' && datum.p=='112'"},{"lookup":"aa","from":{"data":{"name":"aa"},"key":"aa","fields":["i"]}},{"calculate":"(datum.i+0.5)*PI/10","as":"a"},{"calculate":"(datum.v+1.77)*sin(datum.a)","as":"x"},{"calculate":"(datum.v+1.77)*cos(datum.a)","as":"y"}],"mark":{"type":"line","interpolate":"linear-closed","color":"#3b6cc0","strokeWidth":2.5},"encoding":{"order":{"field":"i","type":"quantitative"}}},
     {"data":{"name":"radar"},"transform":[{"filter":"datum.rx=='V' && datum.p=='121'"},{"lookup":"aa","from":{"data":{"name":"aa"},"key":"aa","fields":["i"]}},{"calculate":"(datum.i+0.5)*PI/10","as":"a"},{"calculate":"(datum.v+1.77)*sin(datum.a)","as":"x"},{"calculate":"(datum.v+1.77)*cos(datum.a)","as":"y"}],"mark":{"type":"line","interpolate":"linear-closed","color":"#5e2d91","strokeWidth":2.5},"encoding":{"order":{"field":"i","type":"quantitative"}}},
     {"data":{"name":"aa"},"transform":[{"calculate":"(datum.i+0.5)*PI/10","as":"a"},{"calculate":"4.6*sin(datum.a)","as":"x"},{"calculate":"4.6*cos(datum.a)","as":"y"}],"mark":{"type":"text","fontSize":10},"encoding":{"text":{"field":"aa"},"color":{"field":"g","type":"nominal","scale":{"domain":["Special","Hydrophobic aliphatic","Hydr. aromatic","Polar non-charged","Basic","Acidic"],"range":["#cc66dd","#e8608a","#c8962a","#5aaa2a","#1fb5a0","#2e9be0"]},"legend":null}}},
     {"data":{"values":[{}]},"transform":[{"calculate":"-2.1","as":"x"},{"calculate":"5.95","as":"y"}],"mark":{"type":"text","align":"right","fontSize":13,"color":"#8bb6e6"},"encoding":{"text":{"value":"V)"}}},
     {"data":{"values":[{}]},"transform":[{"calculate":"-1.85","as":"x"},{"calculate":"5.95","as":"y"}],"mark":{"type":"text","align":"left","fontSize":11,"color":"#000"},"encoding":{"text":{"value":"Hydroarylation"}}}
    ]},
   {"width":130,"height":147,
    "encoding":{"x":{"field":"x","type":"quantitative","scale":{"domain":[-5,5],"nice":false,"zero":false},"axis":null},"y":{"field":"y","type":"quantitative","scale":{"domain":[-5,6.3],"nice":false,"zero":false},"axis":null}},
    "layer":[
     {"data":{"name":"aa"},"transform":[{"calculate":"(datum.i+0.5)*PI/10","as":"a"},{"calculate":"0","as":"x"},{"calculate":"0","as":"y"},{"calculate":"3.77*sin(datum.a)","as":"x2"},{"calculate":"3.77*cos(datum.a)","as":"y2"}],"mark":{"type":"rule","color":"#e4e4e4","strokeWidth":1.5},"encoding":{"x2":{"field":"x2"},"y2":{"field":"y2"}}},
     {"data":{"name":"rings"},"transform":[{"calculate":"0","as":"x"},{"calculate":"0","as":"y"}],"mark":{"type":"point","shape":"circle","filled":false,"strokeWidth":1.5,"opacity":1},"encoding":{"size":{"field":"r","type":"quantitative","scale":{"type":"pow","exponent":2,"domain":[0,5],"range":[0,13273]},"legend":null},"stroke":{"field":"k","type":"nominal","scale":{"domain":["grid","zero"],"range":["#e4e4e4","#7a7a7a"]},"legend":null}}},
     {"data":{"name":"groups"},"transform":[{"calculate":"(datum.m+0.5)*PI/10","as":"a"},{"calculate":"4.45*sin(datum.a)","as":"x"},{"calculate":"4.45*cos(datum.a)","as":"y"},{"calculate":"(datum.m+0.5)*18","as":"deg"}],"mark":{"type":"text","fontSize":10},"encoding":{"text":{"field":"g"},"angle":{"field":"deg","type":"quantitative","scale":null},"color":{"field":"g","type":"nominal","scale":{"domain":["Special","Hydrophobic aliphatic","Hydr. aromatic","Polar non-charged","Basic","Acidic"],"range":["#cc66dd","#e8608a","#c8962a","#5aaa2a","#1fb5a0","#2e9be0"]},"legend":null}}},
     {"data":{"name":"radar"},"transform":[{"filter":"datum.rx=='L' && datum.p=='112'"},{"lookup":"aa","from":{"data":{"name":"aa"},"key":"aa","fields":["i"]}},{"calculate":"(datum.i+0.5)*PI/10","as":"a"},{"calculate":"(datum.v+1.77)*sin(datum.a)","as":"x"},{"calculate":"(datum.v+1.77)*cos(datum.a)","as":"y"}],"mark":{"type":"line","color":"#3b6cc0","strokeWidth":2.5},"encoding":{"order":{"field":"i","type":"quantitative"}}},
     {"data":{"name":"radar"},"transform":[{"filter":"datum.rx=='L' && datum.p=='121'"},{"lookup":"aa","from":{"data":{"name":"aa"},"key":"aa","fields":["i"]}},{"calculate":"(datum.i+0.5)*PI/10","as":"a"},{"calculate":"(datum.v+1.77)*sin(datum.a)","as":"x"},{"calculate":"(datum.v+1.77)*cos(datum.a)","as":"y"}],"mark":{"type":"line","color":"#5e2d91","strokeWidth":2.5},"encoding":{"order":{"field":"i","type":"quantitative"}}},
     {"data":{"values":[{}]},"transform":[{"calculate":"0","as":"x"},{"calculate":"0.75","as":"y"}],"mark":{"type":"rule","color":"#000","strokeWidth":2},"encoding":{"y2":{"datum":3.85}}},
     {"data":{"values":[{}]},"transform":[{"calculate":"0","as":"x"},{"calculate":"3.85","as":"y"}],"mark":{"type":"point","shape":"triangle-up","filled":true,"color":"#000","size":45,"opacity":1},"encoding":{}},
     {"data":{"values":[{}]},"transform":[{"calculate":"0","as":"x"},{"calculate":"0.75","as":"y"}],"mark":{"type":"point","shape":"triangle-down","filled":true,"color":"#000","size":45,"opacity":1},"encoding":{}},
     {"data":{"name":"ticks"},"transform":[{"calculate":"datum.v+1.77","as":"y"},{"calculate":"0.55","as":"x"}],"mark":{"type":"text","align":"left","fontSize":9.5,"color":"#000"},"encoding":{"text":{"field":"v","type":"quantitative"}}},
     {"data":{"values":[{}]},"transform":[{"calculate":"-1.05","as":"x"},{"calculate":"1.95","as":"y"}],"mark":{"type":"text","angle":270,"fontSize":9.5,"color":"#000","lineHeight":9.5},"encoding":{"text":{"value":["Average effect","on activity"]}}},
     {"data":{"values":[{}]},"transform":[{"calculate":"-1.85","as":"x"},{"calculate":"-2.2","as":"y"}],"mark":{"type":"text","fontSize":10,"color":"#3b6cc0"},"encoding":{"text":{"value":"Position 112"}}},
     {"data":{"values":[{}]},"transform":[{"calculate":"1.15","as":"x"},{"calculate":"-2.85","as":"y"}],"mark":{"type":"text","fontSize":10,"color":"#5e2d91"},"encoding":{"text":{"value":"Position 121"}}},
     {"data":{"values":[{}]},"transform":[{"calculate":"0","as":"x"},{"calculate":"5.95","as":"y"}],"mark":{"type":"text","fontSize":11,"color":"#000"},"encoding":{"text":{"value":"Legend"}}}
    ]}
 ],"columns":2,"align":"each","spacing":{"row":21,"column":16},"bounds":"flush","resolve":{"scale":{"x":"independent","y":"independent","color":"independent","size":"independent","stroke":"independent"},"legend":{"color":"independent","size":"independent","stroke":"independent"}}},
 {"vconcat":[
  {"width":350,"height":153,
   "title":{"text":"B","anchor":"start","frame":"bounds","offset":0,"dy":5,"fontSize":12,"fontWeight":"bold"},
   "layer":[
    {"data":{"name":"dend"},"mark":{"type":"rule","color":"#000","strokeWidth":1.2},"encoding":{"x":{"field":"xl","type":"quantitative","scale":{"domain":[0.1,21.06],"nice":false,"zero":false},"axis":null},"x2":{"field":"xr"},"y":{"field":"h","type":"quantitative","scale":{"domain":[5,25.58],"nice":false,"zero":false},"axis":{"title":"Height","values":[5,10,15,20,25],"titlePadding":13}}}},
    {"data":{"name":"dend"},"mark":{"type":"rule","color":"#000","strokeWidth":1.2},"encoding":{"x":{"field":"xl","type":"quantitative"},"y":{"field":"hl","type":"quantitative","title":"Height"},"y2":{"field":"h"}}},
    {"data":{"name":"dend"},"mark":{"type":"rule","color":"#000","strokeWidth":1.2},"encoding":{"x":{"field":"xr","type":"quantitative"},"y":{"field":"hr","type":"quantitative","title":"Height"},"y2":{"field":"h"}}},
    {"data":{"name":"leaves"},"mark":{"type":"text","baseline":"top","dy":2,"fontSize":10},"encoding":{"x":{"field":"x","type":"quantitative"},"y":{"field":"h","type":"quantitative","title":"Height"},"text":{"field":"aa"},"color":{"field":"sel","type":"nominal","scale":{"domain":["yes","no"],"range":["#3434f0","#111111"]},"legend":null}}}
   ]},
  {"width":350,"height":236,
   "data":{"name":"strat"},
   "title":{"text":"C","anchor":"start","frame":"bounds","offset":0,"dy":-9,"fontSize":12,"fontWeight":"bold"},
   "encoding":{"x":{"field":"s","type":"nominal","sort":null,"scale":{"type":"band","paddingInner":0.105,"paddingOuter":0.12},"axis":{"title":"Search strategy","labelAngle":0,"ticks":false,"labelExpr":"split(datum.label,'|')","labelPadding":5,"titlePadding":6,"labelLineHeight":10}}},
   "layer":[
    {"mark":{"type":"bar","color":"#d4d4d4"},"encoding":{"y":{"aggregate":"mean","field":"val","type":"quantitative","scale":{"domain":[0,1.1],"nice":false},"axis":{"title":"Relative activity compared to best 112X 121X mutant","values":[0,0.25,0.5,0.75,1],"format":".2f","titleFontSize":9.5}}}},
    {"mark":{"type":"circle","size":45,"opacity":0.8},"encoding":{"xOffset":{"field":"rx","type":"nominal","scale":{"type":"band","domain":["Metathesis","Deallylation (coumarin)","Deallylation (indole)","Hydroamination","Hydroarylation"],"paddingOuter":4}},"y":{"field":"val","type":"quantitative","title":"Relative activity compared to best 112X 121X mutant"},"color":{"field":"rx","type":"nominal","scale":{"domain":["Metathesis","Deallylation (coumarin)","Deallylation (indole)","Hydroamination","Hydroarylation"],"range":["#d2ae7c","#a8c383","#72c99a","#3fc3c9","#8cb8e8"]},"legend":{"orient":"none","legendX":-4,"legendY":290,"direction":"horizontal","columns":3,"title":null,"symbolType":"circle","symbolSize":50,"symbolOpacity":0.8,"labelOffset":8,"columnPadding":4,"rowPadding":3,"labelFontSize":10}}}}
   ]}
 ],"spacing":28,"bounds":"flush","resolve":{"scale":{"x":"independent","y":"independent","color":"independent"},"legend":{"color":"independent"}}}
],"spacing":8,"resolve":{"scale":{"x":"independent","y":"independent","color":"independent","size":"independent","stroke":"independent"},"legend":{"color":"independent","size":"independent","stroke":"independent"}}},
{"hconcat":[
 {"width":332,"height":179,
  "data":{"name":"models"},
  "transform":[{"calculate":"datum.rx+'#'+datum.m","as":"k"}],
  "title":{"text":"D","anchor":"start","frame":"bounds","offset":0,"dy":6,"fontSize":12,"fontWeight":"bold"},
  "encoding":{"x":{"field":"k","type":"nominal","scale":{"type":"band","domain":["Metathesis#SVM","Metathesis#Gradient boosting","Metathesis#Neural network","gap1","Deallylation|(coumarin)#SVM","Deallylation|(coumarin)#Gradient boosting","Deallylation|(coumarin)#Neural network","gap2","Deallylation|(indole)#SVM","Deallylation|(indole)#Gradient boosting","Deallylation|(indole)#Neural network","gap3","Hydroamination#SVM","Hydroamination#Gradient boosting","Hydroamination#Neural network","gap4","Hydroarylation#SVM","Hydroarylation#Gradient boosting","Hydroarylation#Neural network"],"paddingInner":0.06,"paddingOuter":0.97},"axis":{"title":null,"labelAngle":0,"ticks":false,"labelOverlap":false,"labelBound":false,"labelExpr":"indexof(datum.label,'#Gradient boosting')>=0 ? split(replace(datum.label,'#Gradient boosting',''),'|') : ''","labelPadding":5,"labelLineHeight":10}}},
  "layer":[
   {"mark":{"type":"bar","stroke":"#ffffff","strokeOpacity":0.6,"strokeWidth":1},"encoding":{"y":{"field":"r2","type":"quantitative","scale":{"domain":[0,0.835],"nice":false},"axis":{"title":"R² on test set","values":[0,0.2,0.4,0.6,0.8],"format":".1f","titlePadding":8}},"color":{"field":"m","type":"nominal","scale":{"domain":["SVM","Gradient boosting","Neural network"],"range":["#25566a","#00897b","#66c17a"]},"legend":{"orient":"none","legendX":52,"legendY":0,"direction":"horizontal","title":null,"symbolType":"square","symbolSize":160,"symbolStrokeColor":"#ffffff","symbolStrokeWidth":1,"labelOffset":5,"columnPadding":9,"labelFontSize":9.5}}}},
   {"transform":[{"filter":"datum.err>0"},{"calculate":"datum.r2-datum.err","as":"lo"},{"calculate":"datum.r2+datum.err","as":"hi"}],"mark":{"type":"rule","color":"#000","strokeWidth":1.5},"encoding":{"y":{"field":"lo","type":"quantitative","title":"R² on test set"},"y2":{"field":"hi"}}},
   {"transform":[{"filter":"datum.err>0"},{"calculate":"datum.r2-datum.err","as":"lo"}],"mark":{"type":"tick","color":"#000","thickness":1.5,"size":9},"encoding":{"y":{"field":"lo","type":"quantitative","title":"R² on test set"}}},
   {"transform":[{"filter":"datum.err>0"},{"calculate":"datum.r2+datum.err","as":"hi"}],"mark":{"type":"tick","color":"#000","thickness":1.5,"size":9},"encoding":{"y":{"field":"hi","type":"quantitative","title":"R² on test set"}}}
  ]},
 {"width":277,"height":179,
  "view":{"stroke":"#000","strokeWidth":1.2},
  "data":{"name":"scatter"},
  "title":{"text":"E","anchor":"start","frame":"bounds","offset":0,"dy":3,"fontSize":12,"fontWeight":"bold"},
  "mark":{"type":"circle","size":45},
  "encoding":{"x":{"field":"mx","type":"quantitative","scale":{"domain":[0,7],"nice":false},"axis":{"title":"Measured relative cell−specific activity","values":[0,1,2,3,4,5,6,7],"titlePadding":3}},
   "y":{"field":"py","type":"quantitative","scale":{"domain":[0,6],"nice":false},"axis":{"title":"Predicted relative cell−specific activity","values":[0,1,2,3,4,5,6],"titlePadding":6}},
   "color":{"field":"grp","type":"nominal","scale":{"domain":["Best 10 % based on prediction","rest"],"range":["#2f7fe0","#3a3a3a"]},"legend":{"values":["Best 10 % based on prediction"],"orient":"top-left","offset":5,"title":"R² = 0.71","titleOrient":"bottom","titleFontSize":10.5,"labelFontSize":10.5,"symbolSize":50,"symbolOpacity":1,"padding":0,"labelOffset":4}},
   "opacity":{"field":"grp","type":"nominal","scale":{"domain":["Best 10 % based on prediction","rest"],"range":[1,0.72]},"legend":null}}}
],"spacing":43,"bounds":"flush","resolve":{"scale":{"x":"independent","y":"independent","color":"independent","opacity":"independent"},"legend":{"color":"independent","opacity":"independent"}}}
]
}
